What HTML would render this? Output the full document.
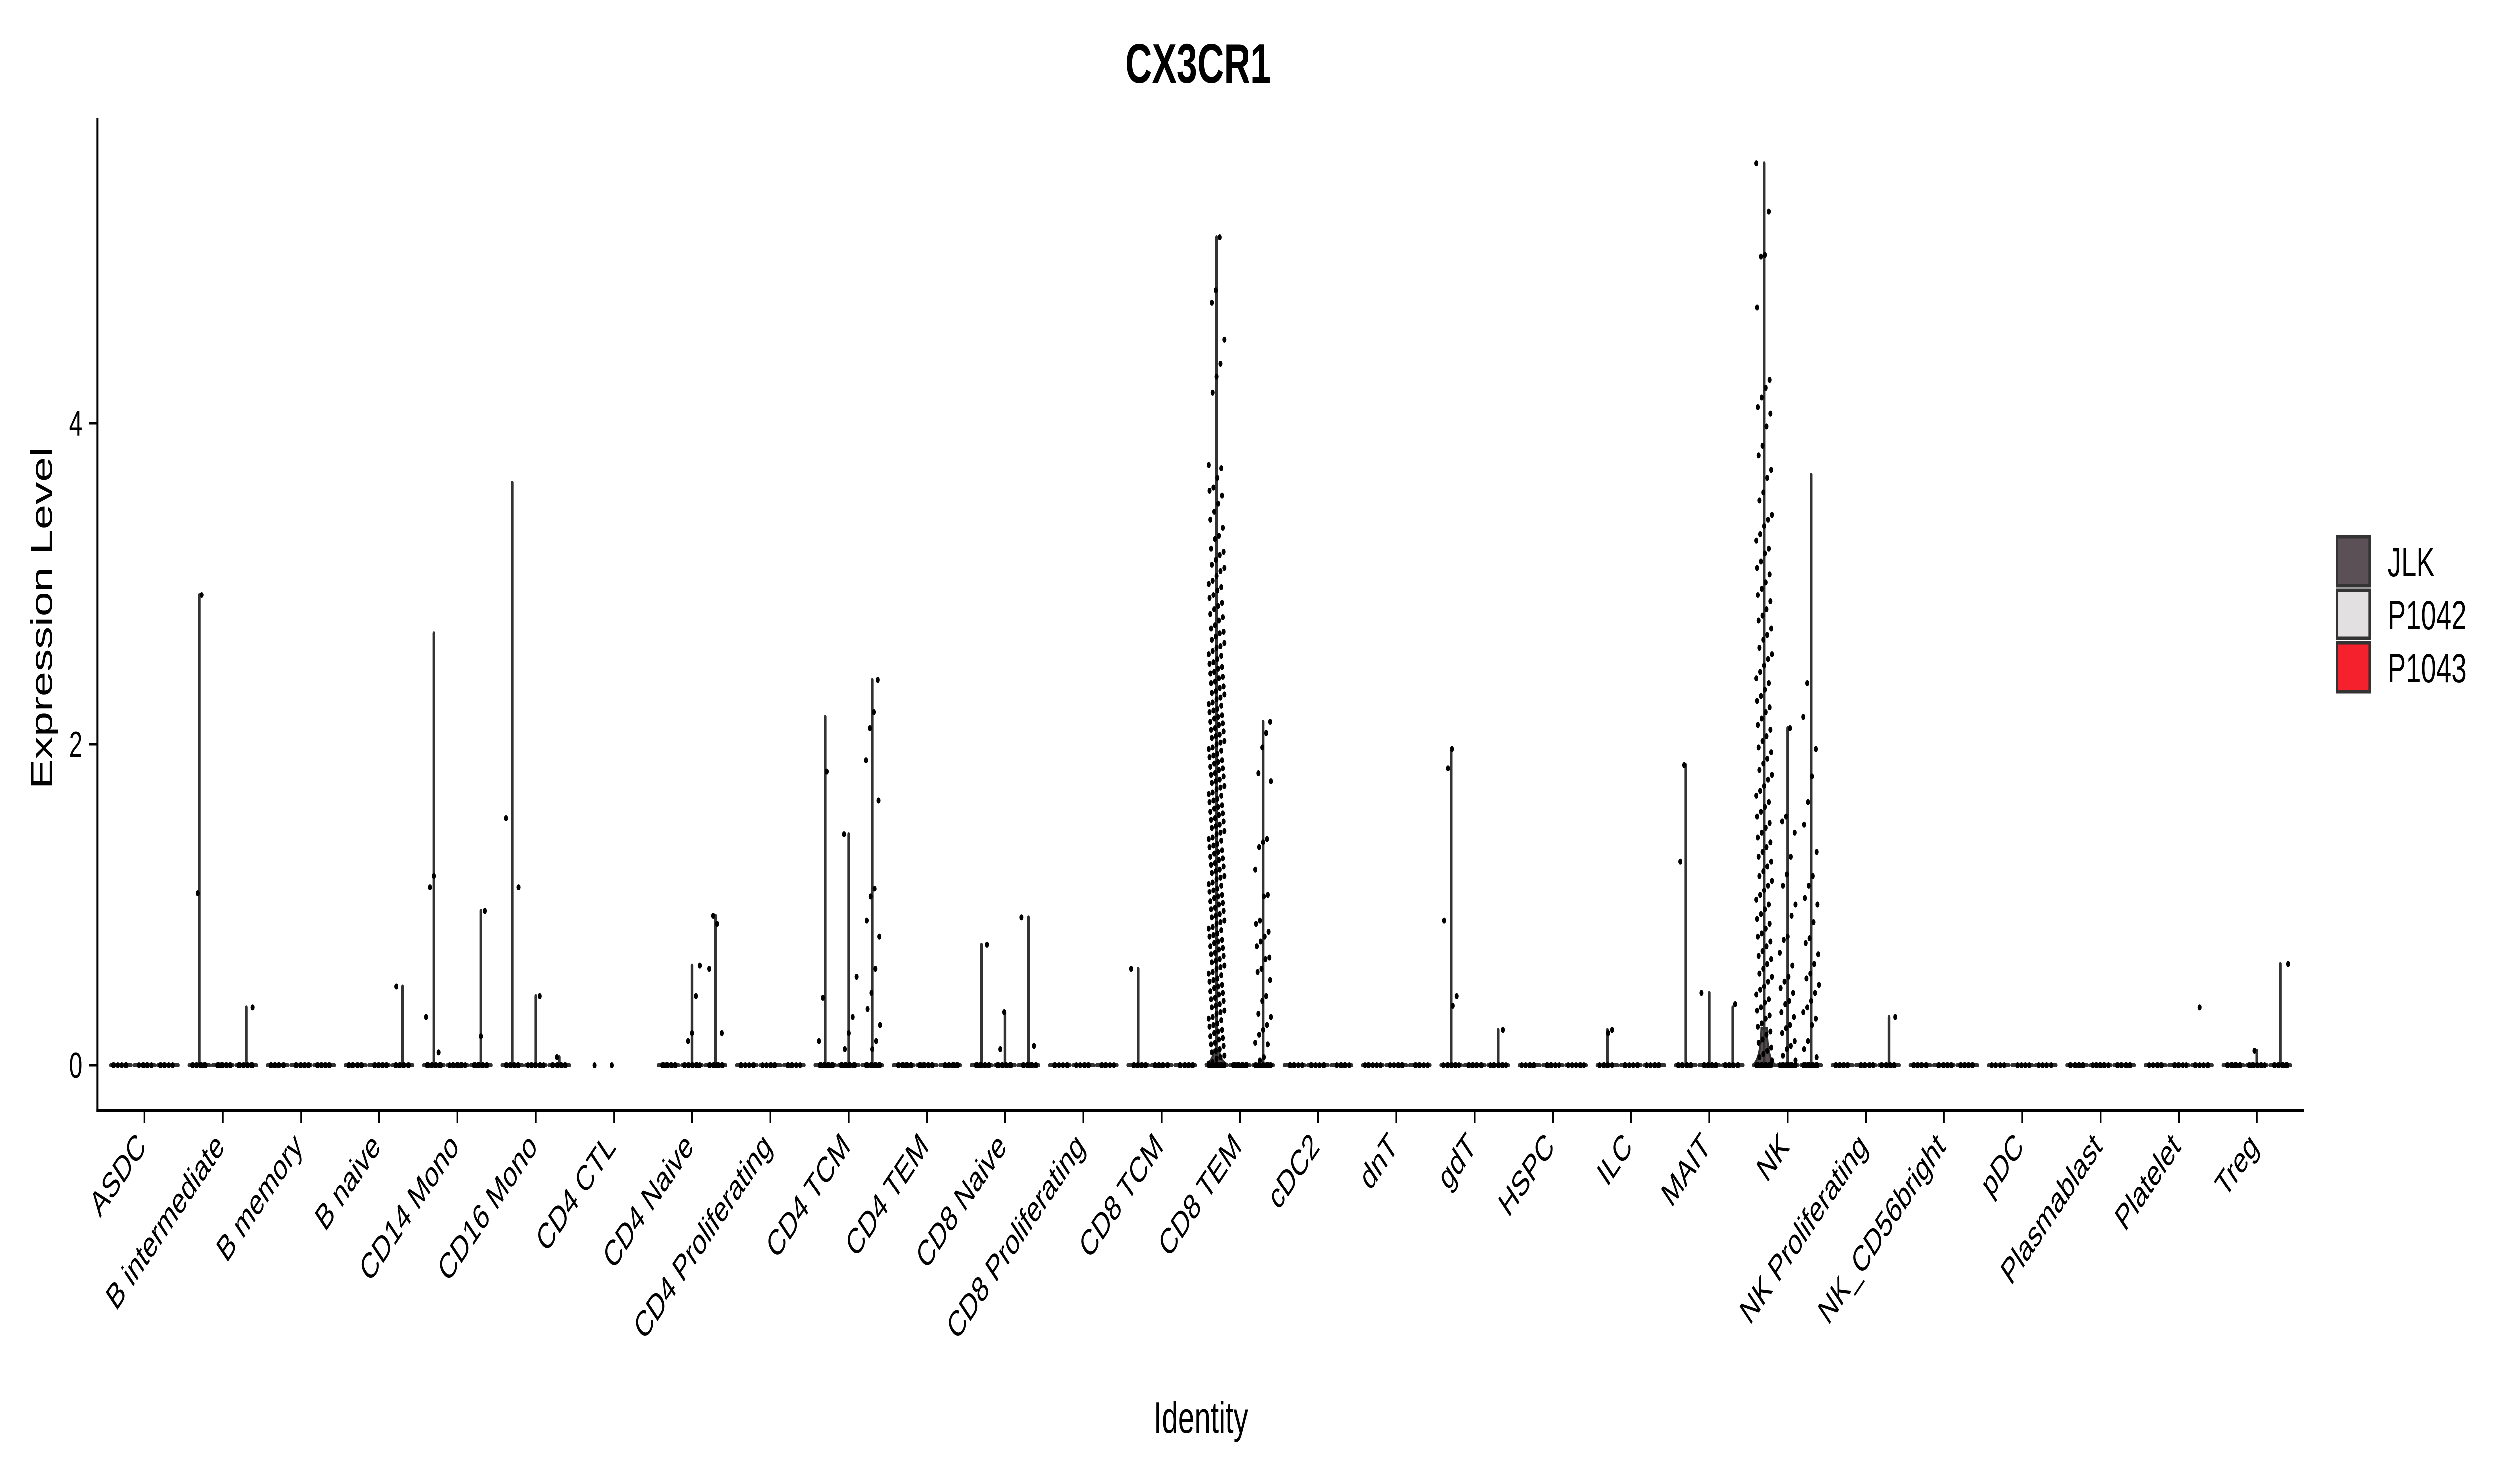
<!DOCTYPE html>
<html><head><meta charset="utf-8"><style>
html,body{margin:0;padding:0;background:#fff;width:100%;height:100%;overflow:hidden;}
svg{display:block;width:100vw;height:100vh;font-family:"Liberation Sans",Arial,sans-serif;}
</style></head><body>
<svg id="chart" viewBox="0 0 7500 2973" preserveAspectRatio="none" xmlns="http://www.w3.org/2000/svg">
<text x="3600" y="166" text-anchor="middle" font-size="111" font-weight="bold">CX3CR1</text>
<g id="plot"></g>
<line x1="293" y1="237" x2="293" y2="2227" stroke="#000" stroke-width="6"/>
<line x1="290" y1="2224" x2="6923" y2="2224" stroke="#000" stroke-width="6"/>
<g id="yticks"></g>
<g id="xticks"></g>
<text transform="translate(157,1238) rotate(-90)" text-anchor="middle" font-size="90">Expression Level</text>
<text x="3608" y="2870" text-anchor="middle" font-size="88">Identity</text>
<g>
<rect x="7022" y="1075" width="98" height="98" fill="#5a5055" stroke="#333" stroke-width="7"/>
<rect x="7022" y="1182" width="98" height="97" fill="#e2e0e1" stroke="#333" stroke-width="7"/>
<rect x="7022" y="1288" width="98" height="98" fill="#f5222d" stroke="#333" stroke-width="7"/>
<text x="7174" y="1154" font-size="82">JLK</text>
<text x="7174" y="1261" font-size="82">P1042</text>
<text x="7174" y="1367" font-size="82">P1043</text>
</g>
</svg>
<script>
const categories = ["ASDC","B intermediate","B memory","B naive","CD14 Mono","CD16 Mono","CD4 CTL","CD4 Naive","CD4 Proliferating","CD4 TCM","CD4 TEM","CD8 Naive","CD8 Proliferating","CD8 TCM","CD8 TEM","cDC2","dnT","gdT","HSPC","ILC","MAIT","NK","NK Proliferating","NK_CD56bright","pDC","Plasmablast","Platelet","Treg"];
const yTicks = [0, 2, 4];
const samples = ["JLK","P1042","P1043"];
const sampleFills = ["#5a5055","#e2e0e1","#f5222d"];
const hasViolin = [1,1,1,1,1,1,0,1,1,1,1,1,1,1,1,1,1,1,1,1,1,1,1,1,1,1,1,1];
const jlkMax   = [0,2.93,0,0,2.69,3.63,0,0,0,2.17,0,0.75,0,0.6,5.16,0,0,1.97,0,0.22,1.87,5.62,0,0,0,0,0,0];
const p1042Max = [0,0,0,0,0,0.43,0,0.62,0,1.44,0,0.33,0,0,0,0,0,0,0,0,0.45,2.1,0,0,0,0,0,0.09];
const p1043Max = [0,0.36,0,0.49,0.96,0.05,0,0.93,0,2.4,0,0.92,0,0,2.14,0,0,0.22,0,0,0.36,3.68,0.3,0,0,0,0,0.63];
const jlkHump  = [0,0,0,0,0,0,0,0,0,0,0,0,0,0,0.09,0,0,0,0,0,0,0.23,0,0,0,0,0,0];
const zeroCounts = [6,10,8,8,10,8,0,10,6,12,10,10,6,8,14,6,6,8,6,6,8,14,8,8,4,8,6,10];
const cd8temJLK = [5.16,4.83,4.75,4.52,4.37,4.29,4.19,3.74,3.72,3.66,3.6,3.58,3.55,3.5,3.45,3.4,3.35,3.3,3.28,3.22,3.2,3.18,3.15,3.12,3.1,3.08,3.05,3.02,3.0,2.98,2.96,2.93,2.91,2.88,2.86,2.84,2.81,2.79,2.77,2.74,2.72,2.7,2.69,2.67,2.65,2.63,2.61,2.6,2.58,2.56,2.55,2.53,2.51,2.5,2.48,2.47,2.45,2.44,2.42,2.41,2.39,2.38,2.36,2.35,2.33,2.32,2.31,2.29,2.28,2.26,2.25,2.24,2.22,2.21,2.2,2.18,2.17,2.16,2.14,2.13,2.12,2.1,2.09,2.08,2.06,2.05,2.04,2.02,2.01,2.0,1.98,1.97,1.96,1.94,1.93,1.92,1.9,1.89,1.88,1.86,1.85,1.84,1.82,1.81,1.8,1.78,1.77,1.76,1.74,1.73,1.72,1.7,1.69,1.68,1.66,1.65,1.64,1.62,1.61,1.6,1.58,1.57,1.56,1.54,1.53,1.52,1.5,1.49,1.48,1.46,1.45,1.44,1.42,1.41,1.4,1.38,1.37,1.36,1.34,1.33,1.32,1.3,1.29,1.28,1.26,1.25,1.24,1.22,1.21,1.2,1.18,1.17,1.16,1.14,1.13,1.12,1.1,1.09,1.08,1.06,1.05,1.04,1.02,1.01,1.0,0.98,0.97,0.96,0.94,0.93,0.92,0.9,0.89,0.88,0.86,0.85,0.84,0.82,0.81,0.8,0.78,0.77,0.76,0.74,0.73,0.72,0.7,0.69,0.68,0.66,0.65,0.64,0.62,0.61,0.6,0.58,0.57,0.56,0.54,0.53,0.52,0.5,0.49,0.48,0.46,0.45,0.44,0.42,0.41,0.4,0.38,0.37,0.36,0.34,0.33,0.32,0.3,0.29,0.28,0.26,0.25,0.24,0.22,0.21,0.2,0.18,0.17,0.16,0.14,0.13,0.12,0.1,0.09,0.08,0.06,0.05,0.04,0.02,0.01];
const nkJLK = [5.62,5.32,5.05,5.04,4.72,4.27,4.22,4.16,4.1,4.06,3.98,3.86,3.8,3.71,3.66,3.57,3.52,3.43,3.4,3.36,3.31,3.27,3.22,3.19,3.14,3.1,3.06,3.01,2.97,2.93,2.89,2.84,2.8,2.77,2.72,2.68,2.65,2.6,2.56,2.53,2.49,2.45,2.41,2.38,2.34,2.3,2.27,2.23,2.2,2.16,2.12,2.09,2.05,2.02,1.98,1.95,1.91,1.88,1.84,1.81,1.78,1.74,1.71,1.68,1.64,1.61,1.58,1.55,1.51,1.48,1.45,1.42,1.39,1.36,1.33,1.3,1.27,1.24,1.21,1.18,1.15,1.12,1.09,1.06,1.03,1.0,0.97,0.94,0.91,0.88,0.85,0.82,0.8,0.77,0.74,0.71,0.68,0.66,0.63,0.6,0.57,0.55,0.52,0.49,0.47,0.44,0.41,0.39,0.36,0.34,0.31,0.29,0.26,0.24,0.21,0.19,0.16,0.14,0.11,0.09,0.07,0.05,0.03];
const jlkPoints = [[],[2.93,1.07],[],[],[1.18,1.11,0.3,0.08],[1.54,1.11],[0],[],[],[1.83,0.42,0.15],[],[0.75],[],[0.6],cd8temJLK,[],[],[1.97,1.85,0.9,0.43,0.37],[],[0.22,0.2],[1.87,1.27],nkJLK,[],[],[],[],[],[]];
const p1042Points = [[],[],[],[],[],[0.43],[0],[0.62,0.43,0.2,0.15],[],[1.44,0.55,0.3,0.2,0.1],[],[0.33,0.1],[],[],[],[],[],[],[],[],[0.45],[2.1,1.55,1.52,1.45,1.3,1.19,1.12,1.0,0.93,0.8,0.78,0.7,0.62,0.55,0.52,0.48,0.45,0.4,0.38,0.33,0.3,0.25,0.23,0.2,0.15,0.12,0.1,0.06,0.03],[],[],[],[],[],[0.09]];
const p1043Points = [[],[0.36],[],[0.49],[0.96,0.18],[0.05],[],[0.88,0.93,0.6,0.2],[],[2.4,2.2,2.1,1.9,1.65,1.1,1.05,0.9,0.8,0.6,0.45,0.35,0.25,0.15,0.1],[],[0.92,0.12],[],[],[2.14,2.07,1.98,1.82,1.77,1.41,1.39,1.36,1.22,1.06,1.05,0.9,0.88,0.83,0.8,0.77,0.74,0.67,0.66,0.6,0.58,0.53,0.43,0.4,0.32,0.3,0.25,0.22,0.19,0.14,0.13,0.05,0.03],[],[],[0.22],[],[],[0.38],[2.38,2.17,1.97,1.8,1.64,1.5,1.33,1.18,1.12,1.04,1.0,0.89,0.79,0.76,0.69,0.63,0.57,0.54,0.5,0.45,0.4,0.36,0.33,0.29,0.25,0.15,0.1,0.05],[0.3],[],[],[],[0.36],[0.63]];

const NS = "http://www.w3.org/2000/svg";
const X0 = 293, UNIT = 235.1, Y0 = 2134, YS = 321.5;
function xScale(i){ return X0 + (0.6 + i) * UNIT; }
function yScale(v){ return Y0 - v * YS; }
const offsets = [-0.3, 0, 0.3];
const maxes = [jlkMax, p1042Max, p1043Max];
const pts = [jlkPoints, p1042Points, p1043Points];
const plot = document.getElementById('plot');
function mk(tag, attrs){ const e = document.createElementNS(NS, tag); for (const k in attrs) e.setAttribute(k, attrs[k]); return e; }
function jit(i, s){ return (((i * 37 + s * 13) % 21) - 10) / 10 * 0.1; }

categories.forEach((c, ci) => {
  const g = mk('g', {});
  
  
  plot.appendChild(g);
  for (let s = 0; s < 3; s++) {
    const cx = xScale(ci) + offsets[s] * UNIT;
    if (hasViolin[ci]) {
      const vg = mk('g', {});
      
      
      g.appendChild(vg);
      const hw = 0.15 * UNIT;
      if (s === 0 && jlkHump[ci] > 0) {
        const hy = yScale(jlkHump[ci]);
        const hump = mk('path', {d: `M${cx-hw},${Y0} Q${cx-hw*0.3},${Y0-8} ${cx-8},${hy} L${cx+8},${hy} Q${cx+hw*0.3},${Y0-8} ${cx+hw},${Y0} Z`, fill: sampleFills[0], stroke: '#333', 'stroke-width': 6});
        
        
        vg.appendChild(hump);
      }
      const base = mk('line', {x1: cx - hw + 4, y1: Y0, x2: cx + hw - 4, y2: Y0, stroke: '#333', 'stroke-width': 8, 'stroke-linecap': 'round'});
      
      
      vg.appendChild(base);
      const m = maxes[s][ci];
      if (m > 0) {
        const sp = mk('line', {x1: cx, y1: Y0, x2: cx, y2: yScale(m), stroke: '#333', 'stroke-width': 8, 'stroke-linecap': 'round'});
        
        
        vg.appendChild(sp);
      }
      for (let z = 0; z < zeroCounts[ci]; z++) {
        const d = mk('circle', {cx: cx + jit(z + ci, s) * UNIT, cy: Y0, r: 6, fill: '#000'});
        
        
        vg.appendChild(d);
      }
    }
    pts[s][ci].forEach((v, k) => {
      const d = mk('circle', {cx: cx + jit(k, s + ci) * UNIT, cy: yScale(v), r: 6, fill: '#000'});
      
      
      g.appendChild(d);
    });
  }
});

const yt = document.getElementById('yticks');
yTicks.forEach(t => {
  const l = mk('line', {x1: 268, y1: yScale(t), x2: 293, y2: yScale(t), stroke: '#000', 'stroke-width': 5});
  
  
  yt.appendChild(l);
  const tx = mk('text', {x: 248, y: yScale(t) + 25, 'text-anchor': 'end', 'font-size': 72});
  tx.textContent = t;
  
  
  yt.appendChild(tx);
});
const xt = document.getElementById('xticks');
categories.forEach((c, i) => {
  const x = xScale(i);
  const l = mk('line', {x1: x, y1: 2224, x2: x, y2: 2250, stroke: '#000', 'stroke-width': 5});
  
  
  xt.appendChild(l);
  const tx = mk('text', {transform: `translate(${x + 8},${2300}) rotate(-45)`, 'text-anchor': 'end', 'font-size': 72});
  tx.textContent = c;
  
  
  xt.appendChild(tx);
});
</script>
</body></html>
